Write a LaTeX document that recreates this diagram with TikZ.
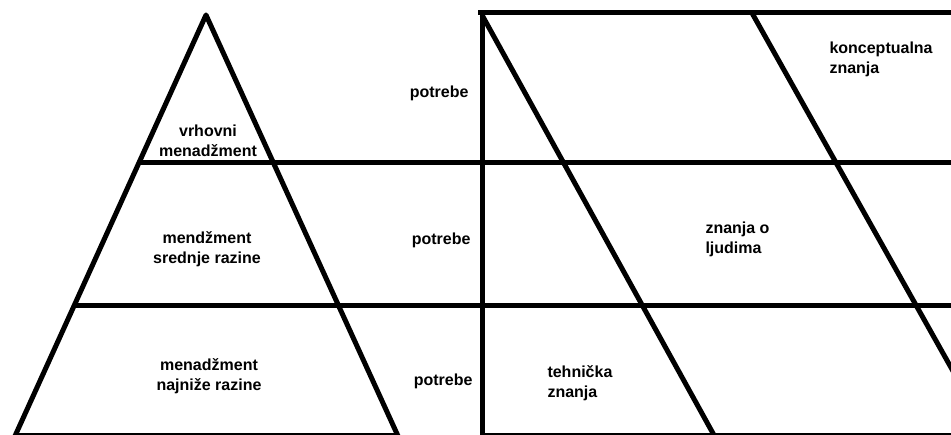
\documentclass[tikz,border=0pt]{standalone}
\usepackage{fontspec}
\setmainfont{Liberation Sans}
\usepackage{tikz}
\usetikzlibrary{calc, positioning}

\begin{document}
\begin{tikzpicture}[x=1pt, y=-1pt, line width=5pt, line join=round,
    oznaka/.style={font=\bfseries\fontsize{16}{20.5}\selectfont, inner sep=0pt, align=center},
    znanje/.style={oznaka, align=left, anchor=north west},
    potreba/.style={oznaka, anchor=east}]
    % --- okvir cijele slike ---
    \useasboundingbox (0,0) rectangle (951,435);
    % Razine (visine vodoravnih crta) i dno
    \def\razA{163}
    \def\razB{306}
    \def\dno{436}

    % Piramida menadzmenta
    \draw (15,\dno) -- (206,15) -- (398,\dno);
    \draw (15,\dno) -- (398,\dno);
    % Vodoravne crte kroz piramidu i tablicu
    \draw (138,\razA) -- (960,\razA);
    \draw (73,\razB) -- (960,\razB);

    % Tablica znanja: okvir
    \draw (478,13) -- (960,13);
    \draw (482,13) -- (482,440);
    \draw (482,\dno) -- (960,\dno);
    % Kose crte
    \draw (482,15) -- (715,437);
    \draw (752,13) -- (990,437);

    % Natpisi u piramidi
    \node[oznaka] (vrh) at (208,141) {vrhovni\\menadžment};
    \node[oznaka] (sredina) at (207,249) {mendžment\\srednje razine};
    \node[oznaka] (dnopir) at (209,376) {menadžment\\najniže razine};

    % Potrebe
    \node[potreba] (potrebaA) at (471,93) {potrebe};
    \node[potreba] (potrebaB) at (473,240) {potrebe};
    \node[potreba] (potrebaC) at (475,381) {potrebe};

    % Vrste znanja
    \node[znanje] (konc) at (827,39) {konceptualna\\znanja};
    \node[znanje] (ljudi) at (703,219) {znanja o\\ljudima};
    \node[znanje] (tehn) at (545,363) {tehnička\\znanja};
\end{tikzpicture}
\end{document}
